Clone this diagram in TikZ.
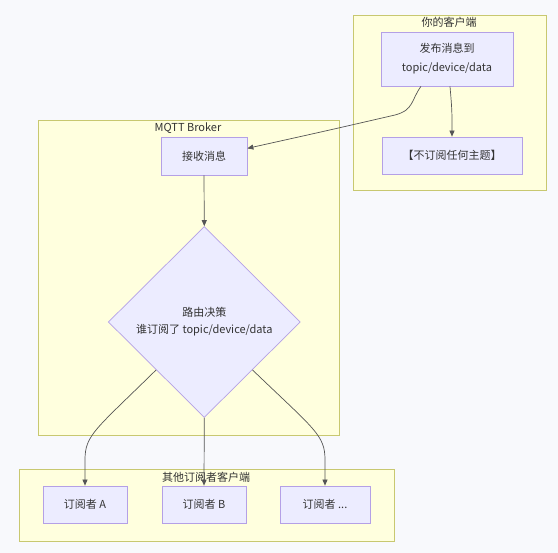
\documentclass[tikz,border=0pt]{standalone}
\usepackage{fontspec}
\setmainfont{Noto Sans CJK SC}
\usetikzlibrary{shapes.geometric,arrows.meta}
\definecolor{bgc}{HTML}{F8F9FC}
\definecolor{clfill}{HTML}{FFFFDE}
\definecolor{clline}{HTML}{C8C870}
\definecolor{ndfill}{HTML}{ECECFF}
\definecolor{ndline}{HTML}{B4A0E6}
\definecolor{txt}{HTML}{333333}
\definecolor{edge}{HTML}{555555}
\tikzset{
  cluster/.style={draw=clline, fill=clfill, line width=0.7pt},
  cltitle/.style={text=txt, font=\fontsize{11}{12}\selectfont, inner sep=0pt},
  box/.style={draw=ndline, fill=ndfill, line width=0.7pt, text=txt,
    font=\fontsize{11}{17}\selectfont, align=center, inner sep=0pt, rectangle},
  conn/.style={draw=edge, line width=0.7pt, -{Triangle[length=6pt,width=5pt]}},
}
\begin{document}
\begin{tikzpicture}[x=1pt,y=-1pt]
\useasboundingbox (0,0) rectangle (558,553);
\fill[bgc] (0,0) rectangle (558,553);
% clusters
\draw[cluster] (353,15) rectangle (546,190);
\node[cltitle] (t1) at (449,22) {你的客户端};
\draw[cluster] (38,120) rectangle (339,435);
\node[cltitle] (t2) at (188,128) {MQTT Broker};
\draw[cluster] (19,469) rectangle (394,541);
\node[cltitle] (t3) at (206,477) {其他订阅者客户端};
% nodes
\node[box, minimum width=132pt, minimum height=54pt] (pub) at (447,59)
  {发布消息到\\[2pt]topic/device/data};
\node[box, minimum width=140pt, minimum height=37pt] (nosub) at (452,155.5) {【不订阅任何主题】};
\node[box, minimum width=86pt, minimum height=38pt] (recv) at (204,156) {接收消息};
\node[box, diamond, minimum width=192pt, minimum height=191pt] (dec) at (204.3,322)
  {路由决策\\谁订阅了 topic/device/data};
\node[box, minimum width=84pt, minimum height=37pt] (sa) at (85,504.5) {订阅者 A};
\node[box, minimum width=84pt, minimum height=37pt] (sb) at (204,504.5) {订阅者 B};
\node[box, minimum width=90pt, minimum height=37pt] (sc) at (325,504.5) {订阅者 ...};
% edges
\draw[conn] ([xshift=-26pt]pub.south) .. controls (411,100) and (414,110) .. (395,115)
  .. controls (330,130) .. (recv.10);
\draw[conn] ([xshift=3pt]pub.south) .. controls (452,110) .. (nosub.north);
\draw[conn] (recv.south) -- (dec.north);
\draw[conn] (dec.south west) .. controls (95,430) and (85,435) .. (85,460) -- (sa.north);
\draw[conn] (dec.south) -- (sb.north);
\draw[conn] (dec.south east) .. controls (315,430) and (325,435) .. (325,460) -- (sc.north);
\end{tikzpicture}
\end{document}
